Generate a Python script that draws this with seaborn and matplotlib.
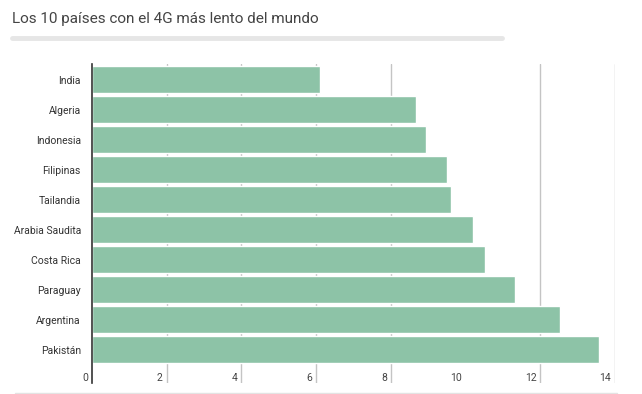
import matplotlib
matplotlib.use("Agg")
import matplotlib.pyplot as plt
import matplotlib.transforms as mtransforms
import seaborn as sns
import pandas as pd

# --- datos ---
paises = ["India", "Algeria", "Indonesia", "Filipinas", "Tailandia",
          "Arabia Saudita", "Costa Rica", "Paraguay", "Argentina", "Pakistán"]
velocidad = [6.10, 8.66, 8.94, 9.51, 9.61, 10.20, 10.52, 11.32, 12.54, 13.56]
x_ticks = [0, 2, 4, 6, 8, 10, 12, 14]
titulo = "Los 10 países con el 4G más lento del mundo"

df = pd.DataFrame({"pais": paises, "mbps": velocidad})

sns.set_theme(style="white")
plt.rcParams["font.family"] = ["Roboto", "DejaVu Sans"]

fig = plt.figure(figsize=(6.42, 3.94), dpi=100)
ax = fig.add_axes([92 / 642, 1 - 383 / 394, (615 - 92) / 642, (383 - 64) / 394])

ax.set_axisbelow(True)
sns.barplot(data=df, x="mbps", y="pais", color="#8dc3a7", saturation=1,
            width=0.9, orient="h", ax=ax)

ax.set_xlim(0, 14)
ax.set_ylim(10.1, -0.53)
ax.set_xticks(x_ticks)
ax.grid(axis="x", color="#c4c4c4", linewidth=1)
# la línea del 10 no aparece en el original
for v, gl in zip(x_ticks, ax.get_xgridlines()):
    if v in (0, 10):
        gl.set_visible(False)

ax.set_xlabel("")
ax.set_ylabel("")
ax.tick_params(axis="y", length=0, pad=8, labelsize=7.5, labelcolor="#333333")
ax.tick_params(axis="x", length=0, labelbottom=False)

# etiquetas del eje x dentro del área, a la izquierda de cada línea
off = mtransforms.offset_copy(ax.get_xaxis_transform(), fig=fig, x=-4, y=0, units="dots")
for v in x_ticks:
    ax.text(v, 0.017, str(v), transform=off, ha="right", va="center",
            fontsize=7.5, color="#444444")

for s in ["top", "right", "bottom"]:
    ax.spines[s].set_visible(False)
ax.spines["left"].set_color("#333333")
ax.spines["left"].set_linewidth(1.2)

fig.text(12 / 642, 1 - 19 / 394, titulo, fontsize=11, color="#444444",
         ha="left", va="center")
fig.add_artist(plt.Line2D([12 / 642, 502 / 642], [1 - 38 / 394] * 2,
                          color="#e6e6e6", linewidth=3.5))
fig.add_artist(plt.Line2D([15 / 642, 617 / 642], [1 - 392.5 / 394] * 2,
                          color="#e3e3e3", linewidth=1))

fig.savefig("out.png", dpi=100)
